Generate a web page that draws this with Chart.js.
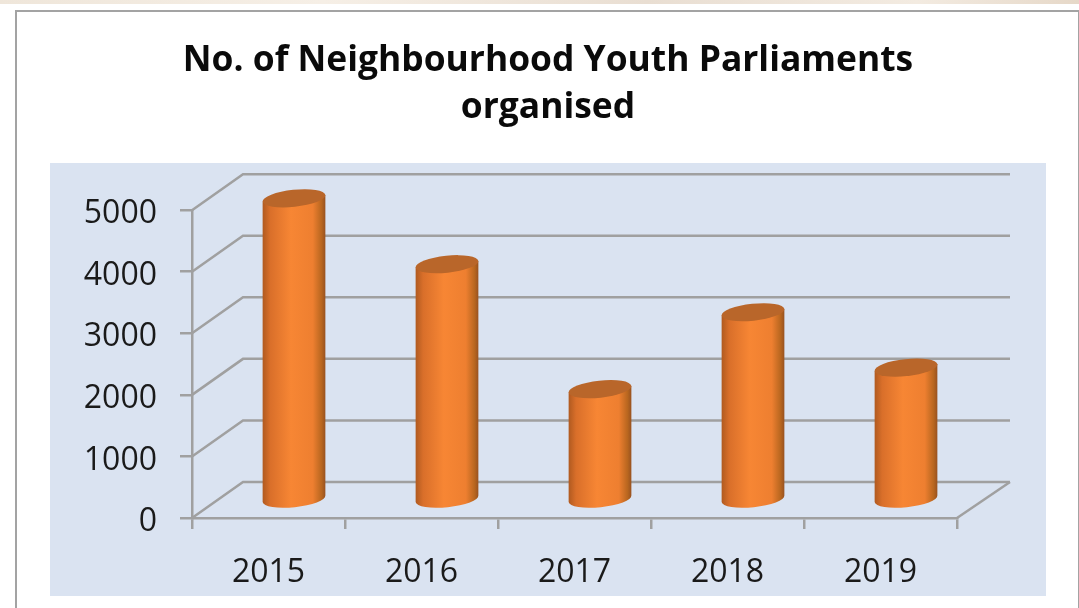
<!DOCTYPE html>
<html>
<head>
<meta charset="utf-8">
<title>No. of Neighbourhood Youth Parliaments organised</title>
<script src="https://cdn.jsdelivr.net/npm/chart.js@4"></script>
<style>
  html, body { margin: 0; padding: 0; background: #fff; width: 1079px; height: 608px; overflow: hidden; }
  #strip { position: absolute; left: 0; top: 0; width: 1079px; height: 4px;
           background: linear-gradient(90deg, #efe6da, #f6efe6 30%, #e9ded2 60%, #f3ebe1 85%, #e6d8c8); }
  #frame { position: absolute; left: 15px; top: 10px; width: 1065px; height: 620px;
           border: 2px solid #a3a3a3; box-sizing: border-box; }
  #chart { position: absolute; left: 0; top: 0; }
</style>
</head>
<body>
<div id="strip"></div>
<div id="frame"></div>
<canvas id="chart" width="1079" height="608"></canvas>
<script>
const years = ['2015', '2016', '2017', '2018', '2019'];
const parliaments = [4900, 3830, 1800, 3050, 2150];
const titleLines = ['No. of Neighbourhood Youth Parliaments', 'organised'];
const yTicks = [0, 1000, 2000, 3000, 4000, 5000];

const FONT = '"Open Sans", sans-serif';
const AXIS_GREY = '#a0a0a0';
const DEPTH_X = 51;   // horizontal run of the floor, front edge to back wall
const DEPTH_Y = -36;  // vertical run of the floor, front edge to back wall

// Blue panel behind the plot, then the perspective grid: back wall lines,
// the slanted side wall lines and the right edge of the floor.
const wallPlugin = {
  id: 'wall',
  // The value labels hang out to the left of the narrow axis box, so widen its clip area.
  afterLayout(chart) {
    chart.scales.y.left = 0;
  },
  beforeDraw(chart) {
    const { ctx } = chart;
    ctx.save();
    ctx.fillStyle = '#dae3f1';
    ctx.fillRect(50, 163, 996, 433);
    ctx.restore();
  },
  beforeDatasetsDraw(chart) {
    const { ctx, scales: { x, y } } = chart;
    ctx.save();
    ctx.strokeStyle = AXIS_GREY;
    ctx.lineWidth = 2.5;
    yTicks.forEach(v => {
      const py = y.getPixelForValue(v);
      ctx.beginPath();
      ctx.moveTo(x.left, py);
      ctx.lineTo(x.left + DEPTH_X, py + DEPTH_Y);
      ctx.lineTo(x.right + DEPTH_X + 2, py + DEPTH_Y);
      ctx.stroke();
    });
    const py0 = y.getPixelForValue(0);
    ctx.beginPath();
    ctx.moveTo(x.right, py0);
    ctx.lineTo(x.right + DEPTH_X + 2, py0 + DEPTH_Y);
    ctx.stroke();
    ctx.restore();
  },
  // Each bar element is drawn as a cylinder standing midway across the floor.
  beforeDatasetDraw(chart, args) {
    const { ctx } = chart;
    const meta = chart.getDatasetMeta(args.index);
    const tilt = -6 * Math.PI / 180;
    meta.data.forEach(bar => {
      const rx = bar.width / 2;
      const ry = 8.5;
      const cx = bar.x + DEPTH_X / 2;
      const top = bar.y + DEPTH_Y / 2;
      const base = bar.base + DEPTH_Y / 2;
      const dy = rx * Math.sin(tilt);
      const grad = ctx.createLinearGradient(cx - rx, 0, cx + rx, 0);
      grad.addColorStop(0, '#b05a20');
      grad.addColorStop(0.12, '#d96f2a');
      grad.addColorStop(0.45, '#f78634');
      grad.addColorStop(0.8, '#ee7f30');
      grad.addColorStop(0.94, '#b8661f');
      grad.addColorStop(1, '#985220');
      ctx.save();
      ctx.fillStyle = grad;
      ctx.beginPath();
      ctx.moveTo(cx - rx, top - dy);
      ctx.lineTo(cx + rx, top + dy);
      ctx.lineTo(cx + rx, base + dy);
      ctx.ellipse(cx, base, rx / Math.cos(tilt), ry, tilt, 0, Math.PI);
      ctx.closePath();
      ctx.fill();
      ctx.fillStyle = '#b9662a';
      ctx.beginPath();
      ctx.ellipse(cx, top, rx / Math.cos(tilt), ry, tilt, 0, Math.PI * 2);
      ctx.fill();
      ctx.restore();
    });
    return false;
  }
};

new Chart(document.getElementById('chart'), {
  type: 'bar',
  data: {
    labels: years,
    datasets: [{
      label: 'No. of Neighbourhood Youth Parliaments organised',
      data: parliaments,
      backgroundColor: '#f58232',
      categoryPercentage: 1,
      barPercentage: 0.41
    }]
  },
  options: {
    responsive: false,
    animation: false,
    layout: { padding: { left: 139, right: 122, top: 0, bottom: 0 } },
    plugins: {
      legend: { display: false },
      tooltip: { enabled: false },
      title: {
        display: true,
        text: titleLines,
        color: '#0a0a0a',
        font: { family: FONT, size: 35.4, weight: 'bold', lineHeight: 1.33 },
        padding: { top: 37, bottom: 79 }
      }
    },
    scales: {
      x: {
        afterFit: s => { s.height = 90; },
        grid: { drawOnChartArea: false, color: AXIS_GREY, lineWidth: 2.5, tickLength: 11 },
        border: { color: AXIS_GREY, width: 2.5 },
        ticks: { color: '#1a1a1a', padding: 25, font: { family: FONT, size: 32 }, maxRotation: 0 }
      },
      y: {
        min: 0,
        max: 5000,
        afterFit: s => { s.width = 53; },
        afterBuildTicks: s => { s.ticks = yTicks.map(value => ({ value })); },
        grid: { drawOnChartArea: false, color: AXIS_GREY, lineWidth: 2.5, tickLength: 12 },
        border: { color: AXIS_GREY, width: 2.5 },
        ticks: {
          color: '#1a1a1a',
          padding: 23,
          labelOffset: 4,
          font: { family: FONT, size: 32 },
          callback: value => String(value)
        }
      }
    }
  },
  plugins: [wallPlugin]
});
</script>
</body>
</html>
